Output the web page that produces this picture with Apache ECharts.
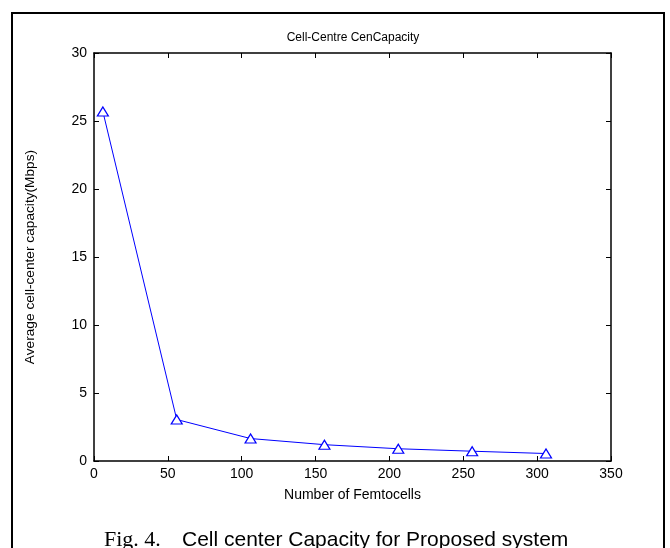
<!DOCTYPE html>
<html>
<head>
<meta charset="utf-8">
<script src="https://cdn.jsdelivr.net/npm/echarts@6/dist/echarts.min.js"></script>
<style>html,body{margin:0;padding:0;background:#fff;}#c{width:670px;height:548px;}</style>
</head>
<body>
<div id="c"></div>
<script>
var femtocells = [6, 56, 106, 156, 206, 256, 306];
var capacity = [25.7, 3.05, 1.65, 1.2, 0.9, 0.72, 0.55];
var xTicks = [0, 50, 100, 150, 200, 250, 300, 350];
var yTicks = [0, 5, 10, 15, 20, 25, 30];
var titleText = 'Cell-Centre CenCapacity';
var xName = 'Number of Femtocells';
var yName = 'Average cell-center capacity(Mbps)';

var chart = echarts.init(document.getElementById('c'), null, {renderer: 'canvas'});
var font = 'Liberation Sans, Arial, sans-serif';
var axisCommon = {
  axisLine: {show: true, onZero: false, lineStyle: {color: '#000', width: 1.5}},
  axisTick: {show: true, inside: true, length: 5, lineStyle: {color: '#000', width: 1}},
  splitLine: {show: false}
};
chart.setOption({
  animation: false,
  backgroundColor: '#fff',
  grid: {left: 94, top: 53, width: 517, height: 408, containLabel: false},
  xAxis: [
    Object.assign({
      type: 'value', min: xTicks[0], max: xTicks[xTicks.length - 1], interval: 50, position: 'bottom',
      name: xName, nameLocation: 'middle', nameGap: 27,
      nameTextStyle: {color: '#000', fontSize: 14, fontFamily: font},
      axisLabel: {color: '#000', fontSize: 14, fontFamily: font, margin: 6}
    }, axisCommon),
    Object.assign({
      type: 'value', min: xTicks[0], max: xTicks[xTicks.length - 1], interval: 50, position: 'top',
      axisLabel: {show: false}
    }, axisCommon)
  ],
  yAxis: [
    Object.assign({
      type: 'value', min: yTicks[0], max: yTicks[yTicks.length - 1], interval: 5, position: 'left',
      name: yName, nameLocation: 'middle', nameGap: 57, nameRotate: 90,
      nameTextStyle: {color: '#000', fontSize: 13.7, fontFamily: font},
      axisLabel: {color: '#000', fontSize: 14, fontFamily: font, margin: 7}
    }, axisCommon),
    Object.assign({
      type: 'value', min: yTicks[0], max: yTicks[yTicks.length - 1], interval: 5, position: 'right',
      axisLabel: {show: false}
    }, axisCommon)
  ],
  series: [{
    type: 'line',
    data: femtocells.map(function (x, i) { return [x, capacity[i]]; }),
    xAxisIndex: 0, yAxisIndex: 0,
    symbol: 'triangle', symbolSize: [11, 9], showAllSymbol: true,
    lineStyle: {color: '#0000ff', width: 1},
    itemStyle: {color: '#fff', borderColor: '#0000ff', borderWidth: 1.2},
    emphasis: {disabled: true}
  }],
  graphic: [
    {type: 'rect', shape: {x: 12, y: 13, width: 652, height: 560}, style: {fill: 'none', stroke: '#000', lineWidth: 2}, silent: true},
    {type: 'text', x: 353, y: 38, style: {text: titleText, fill: '#000', font: '12px ' + font, textAlign: 'center', textVerticalAlign: 'middle'}},
    {type: 'text', x: 104, y: 540, style: {text: 'Fig. 4.', fill: '#000', font: '22px Liberation Serif, Times New Roman, serif', textAlign: 'left', textVerticalAlign: 'middle'}},
    {type: 'text', x: 182, y: 540, style: {text: 'Cell center Capacity for Proposed system', fill: '#000', font: '21px ' + font, textAlign: 'left', textVerticalAlign: 'middle'}}
  ]
});
</script>
</body>
</html>
